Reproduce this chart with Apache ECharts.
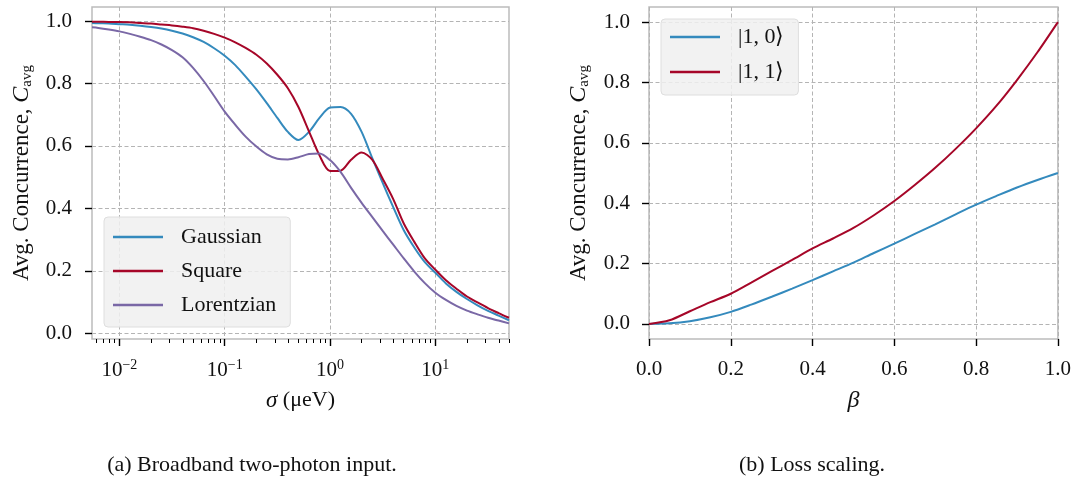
<!DOCTYPE html>
<html><head><meta charset="utf-8">
<script src="https://cdn.jsdelivr.net/npm/echarts@6/dist/echarts.min.js"></script>
<style>html,body{margin:0;padding:0;background:#fff}#c{width:1074px;height:486px}</style>
</head><body><div id="c"></div>
<script>
// ---- Panel (a): broadband two-photon input (sigma in µeV) ----
const sigma = [0.0055, 0.00631, 0.00794, 0.01, 0.0126, 0.0158, 0.02, 0.0251, 0.0316, 0.0398, 0.0501, 0.0631, 0.0794, 0.1, 0.126, 0.158, 0.2, 0.251, 0.316, 0.398, 0.501, 0.631, 0.794, 1.0, 1.259, 1.585, 1.995, 2.512, 3.162, 3.981, 5.012, 6.31, 7.943, 10, 12.59, 15.85, 19.95, 25.12, 31.62, 39.81, 50];
const gaussian = [0.994, 0.993, 0.992, 0.990, 0.988, 0.985, 0.981, 0.976, 0.969, 0.960, 0.948, 0.933, 0.913, 0.889, 0.859, 0.822, 0.781, 0.737, 0.69, 0.645, 0.619, 0.645, 0.69, 0.723, 0.725, 0.703, 0.645, 0.562, 0.482, 0.404, 0.33, 0.275, 0.228, 0.194, 0.16, 0.133, 0.11, 0.09, 0.072, 0.057, 0.042];
const square = [0.998, 0.998, 0.997, 0.997, 0.996, 0.994, 0.992, 0.989, 0.986, 0.982, 0.977, 0.969, 0.959, 0.947, 0.932, 0.914, 0.892, 0.864, 0.828, 0.785, 0.725, 0.647, 0.57, 0.52, 0.521, 0.556, 0.579, 0.556, 0.495, 0.43, 0.352, 0.293, 0.24, 0.204, 0.17, 0.143, 0.118, 0.099, 0.081, 0.065, 0.05];
const lorentzian = [0.98, 0.978, 0.973, 0.967, 0.959, 0.95, 0.939, 0.925, 0.907, 0.884, 0.85, 0.808, 0.76, 0.71, 0.668, 0.63, 0.598, 0.573, 0.559, 0.557, 0.564, 0.574, 0.576, 0.555, 0.517, 0.466, 0.418, 0.373, 0.328, 0.284, 0.24, 0.198, 0.161, 0.13, 0.107, 0.088, 0.073, 0.061, 0.05, 0.041, 0.032];
const sigmaMajor = [0.01, 0.1, 1, 10];
const sigmaMinor = [0.006, 0.007, 0.008, 0.009, 0.02, 0.03, 0.04, 0.05, 0.06, 0.07, 0.08, 0.09, 0.2, 0.3, 0.4, 0.5, 0.6, 0.7, 0.8, 0.9, 2, 3, 4, 5, 6, 7, 8, 9, 20, 30, 40, 50];
const sigmaMin = 0.0055, sigmaMax = 50;

// ---- Panel (b): loss scaling ----
const beta = [0, 0.05, 0.1, 0.15, 0.2, 0.25, 0.3, 0.35, 0.4, 0.45, 0.5, 0.55, 0.6, 0.65, 0.7, 0.75, 0.8, 0.85, 0.9, 0.95, 1.0];
const ket10 = [0, 0.002, 0.009, 0.022, 0.04, 0.064, 0.09, 0.117, 0.145, 0.174, 0.203, 0.235, 0.266, 0.298, 0.33, 0.363, 0.395, 0.424, 0.452, 0.477, 0.50];
const ket11 = [0, 0.012, 0.042, 0.072, 0.10, 0.137, 0.175, 0.212, 0.25, 0.283, 0.318, 0.36, 0.407, 0.46, 0.517, 0.58, 0.648, 0.723, 0.808, 0.9, 1.0];
const yTicks = [0, 0.2, 0.4, 0.6, 0.8, 1.0];

const FONT = 'Liberation Serif';
const C_BLUE = '#348ABD', C_RED = '#A60628', C_PURPLE = '#7A68A6';
const TXT = '#111';
const lg = Math.log10;

const gridLine = { show: true, lineStyle: { color: '#b4b4b4', width: 1, type: [4, 2.5] } };
const tickStyle = { color: '#000', width: 1.4 };
const labelFont = { fontFamily: FONT, fontSize: 21, color: TXT };
const yName = '{n|Avg. Concurrence, }{c|C}{s|avg}';
const yNameStyle = {
  rich: {
    n: { fontFamily: FONT, fontSize: 23, color: TXT, lineHeight: 26 },
    c: { fontFamily: FONT, fontSize: 24, fontStyle: 'italic', color: TXT, lineHeight: 26 },
    s: { fontFamily: FONT, fontSize: 15, color: TXT, lineHeight: 16, verticalAlign: 'bottom' }
  }
};

function expLabel(v) {
  const e = Math.round(v);
  const s = e < 0 ? '\u2212' + Math.abs(e) : String(e);
  return '{b|10}{s|' + s + '}';
}

const option = {
  animation: false,
  backgroundColor: '#fff',
  grid: [
    { left: 92, top: 7, width: 417, height: 332, show: true, borderColor: '#bcbcbc', borderWidth: 1.5, containLabel: false },
    { left: 649, top: 7, width: 410, height: 332, show: true, borderColor: '#bcbcbc', borderWidth: 1.5, containLabel: false }
  ],
  xAxis: [
    {
      gridIndex: 0, type: 'value', min: lg(sigmaMin), max: lg(sigmaMax), position: 'bottom',
      axisLine: { show: false, onZero: false },
      axisTick: { show: true, customValues: sigmaMajor.map(lg), length: 7, lineStyle: tickStyle },
      axisLabel: {
        customValues: sigmaMajor.map(lg), formatter: expLabel, margin: 19,
        rich: {
          b: { fontFamily: FONT, fontSize: 21, color: TXT, lineHeight: 24 },
          s: { fontFamily: FONT, fontSize: 14, color: TXT, lineHeight: 14, verticalAlign: 'top' }
        }
      },
      splitLine: gridLine,
      name: '{i|\u03c3}{n| (\u03bceV)}', nameLocation: 'middle', nameGap: 50,
      nameTextStyle: { rich: {
        i: { fontFamily: FONT, fontSize: 23, fontStyle: 'italic', color: TXT },
        n: { fontFamily: FONT, fontSize: 22, color: TXT }
      } }
    },
    {
      gridIndex: 0, type: 'value', min: lg(sigmaMin), max: lg(sigmaMax), position: 'bottom', offset: 0,
      axisLine: { show: false, onZero: false },
      axisTick: { show: true, customValues: sigmaMinor.map(lg), length: 4, lineStyle: { color: '#000', width: 1 } },
      axisLabel: { show: false }, splitLine: { show: false }
    },
    {
      gridIndex: 1, type: 'value', min: 0, max: 1, interval: 0.2, position: 'bottom',
      axisLine: { show: false, onZero: false },
      axisTick: { show: true, length: 7, lineStyle: tickStyle },
      axisLabel: Object.assign({ margin: 20, formatter: v => v.toFixed(1) }, labelFont),
      splitLine: gridLine,
      name: '\u03b2', nameLocation: 'middle', nameGap: 50,
      nameTextStyle: { fontFamily: FONT, fontSize: 24, fontStyle: 'italic', color: TXT }
    }
  ],
  yAxis: [
    {
      gridIndex: 0, type: 'value', min: -0.018, max: 1.045, position: 'left',
      axisLine: { show: false, onZero: false },
      axisTick: { show: true, customValues: yTicks, length: 7, lineStyle: tickStyle },
      axisLabel: Object.assign({ customValues: yTicks, margin: 20, formatter: v => v.toFixed(1) }, labelFont),
      splitLine: gridLine,
      name: yName, nameLocation: 'middle', nameGap: 57, nameTextStyle: yNameStyle
    },
    {
      gridIndex: 1, type: 'value', min: -0.05, max: 1.05, position: 'left',
      axisLine: { show: false, onZero: false },
      axisTick: { show: true, customValues: yTicks, length: 7, lineStyle: tickStyle },
      axisLabel: Object.assign({ customValues: yTicks, margin: 19, formatter: v => v.toFixed(1) }, labelFont),
      splitLine: gridLine,
      name: yName, nameLocation: 'middle', nameGap: 57, nameTextStyle: yNameStyle
    }
  ],
  legend: [
    {
      data: ['Gaussian', 'Square', 'Lorentzian'], orient: 'vertical', left: 104, top: 217,
      icon: 'rect', itemWidth: 50, itemHeight: 2.4, itemGap: 12,
      padding: [9, 14, 11, 9], backgroundColor: 'rgba(240,240,240,0.85)', borderColor: '#dedede', borderWidth: 1, borderRadius: 4,
      textStyle: { fontFamily: FONT, fontSize: 22, color: TXT, lineHeight: 22, padding: [0, 0, 0, 13] }
    },
    {
      data: ['|1, 0\u27e9', '|1, 1\u27e9'], orient: 'vertical', left: 661, top: 19,
      icon: 'rect', itemWidth: 50, itemHeight: 2.4, itemGap: 13,
      padding: [7, 14, 12, 9], backgroundColor: 'rgba(240,240,240,0.85)', borderColor: '#dedede', borderWidth: 1, borderRadius: 4,
      textStyle: { fontFamily: FONT, fontSize: 22, color: TXT, lineHeight: 22, padding: [0, 0, 0, 13] }
    }
  ],
  series: [
    { name: 'Gaussian', type: 'line', xAxisIndex: 0, yAxisIndex: 0, symbol: 'none', smooth: 0.3,
      data: sigma.map((s, i) => [lg(s), gaussian[i]]), lineStyle: { width: 2, color: C_BLUE }, itemStyle: { color: C_BLUE } },
    { name: 'Square', type: 'line', xAxisIndex: 0, yAxisIndex: 0, symbol: 'none', smooth: 0.3,
      data: sigma.map((s, i) => [lg(s), square[i]]), lineStyle: { width: 2, color: C_RED }, itemStyle: { color: C_RED } },
    { name: 'Lorentzian', type: 'line', xAxisIndex: 0, yAxisIndex: 0, symbol: 'none', smooth: 0.3,
      data: sigma.map((s, i) => [lg(s), lorentzian[i]]), lineStyle: { width: 2, color: C_PURPLE }, itemStyle: { color: C_PURPLE } },
    { name: '|1, 0\u27e9', type: 'line', xAxisIndex: 2, yAxisIndex: 1, symbol: 'none', smooth: 0.3,
      data: beta.map((b, i) => [b, ket10[i]]), lineStyle: { width: 2, color: C_BLUE }, itemStyle: { color: C_BLUE } },
    { name: '|1, 1\u27e9', type: 'line', xAxisIndex: 2, yAxisIndex: 1, symbol: 'none', smooth: 0.3,
      data: beta.map((b, i) => [b, ket11[i]]), lineStyle: { width: 2, color: C_RED }, itemStyle: { color: C_RED } }
  ],
  graphic: [
    { type: 'text', x: 252, y: 465, style: { text: '(a) Broadband two-photon input.', align: 'center', verticalAlign: 'middle', font: '22px "Liberation Serif"', fill: TXT } },
    { type: 'text', x: 812, y: 465, style: { text: '(b) Loss scaling.', align: 'center', verticalAlign: 'middle', font: '22px "Liberation Serif"', fill: TXT } }
  ]
};

const chart = echarts.init(document.getElementById('c'), null, { renderer: 'canvas' });
chart.setOption(option);
</script>
</body></html>
